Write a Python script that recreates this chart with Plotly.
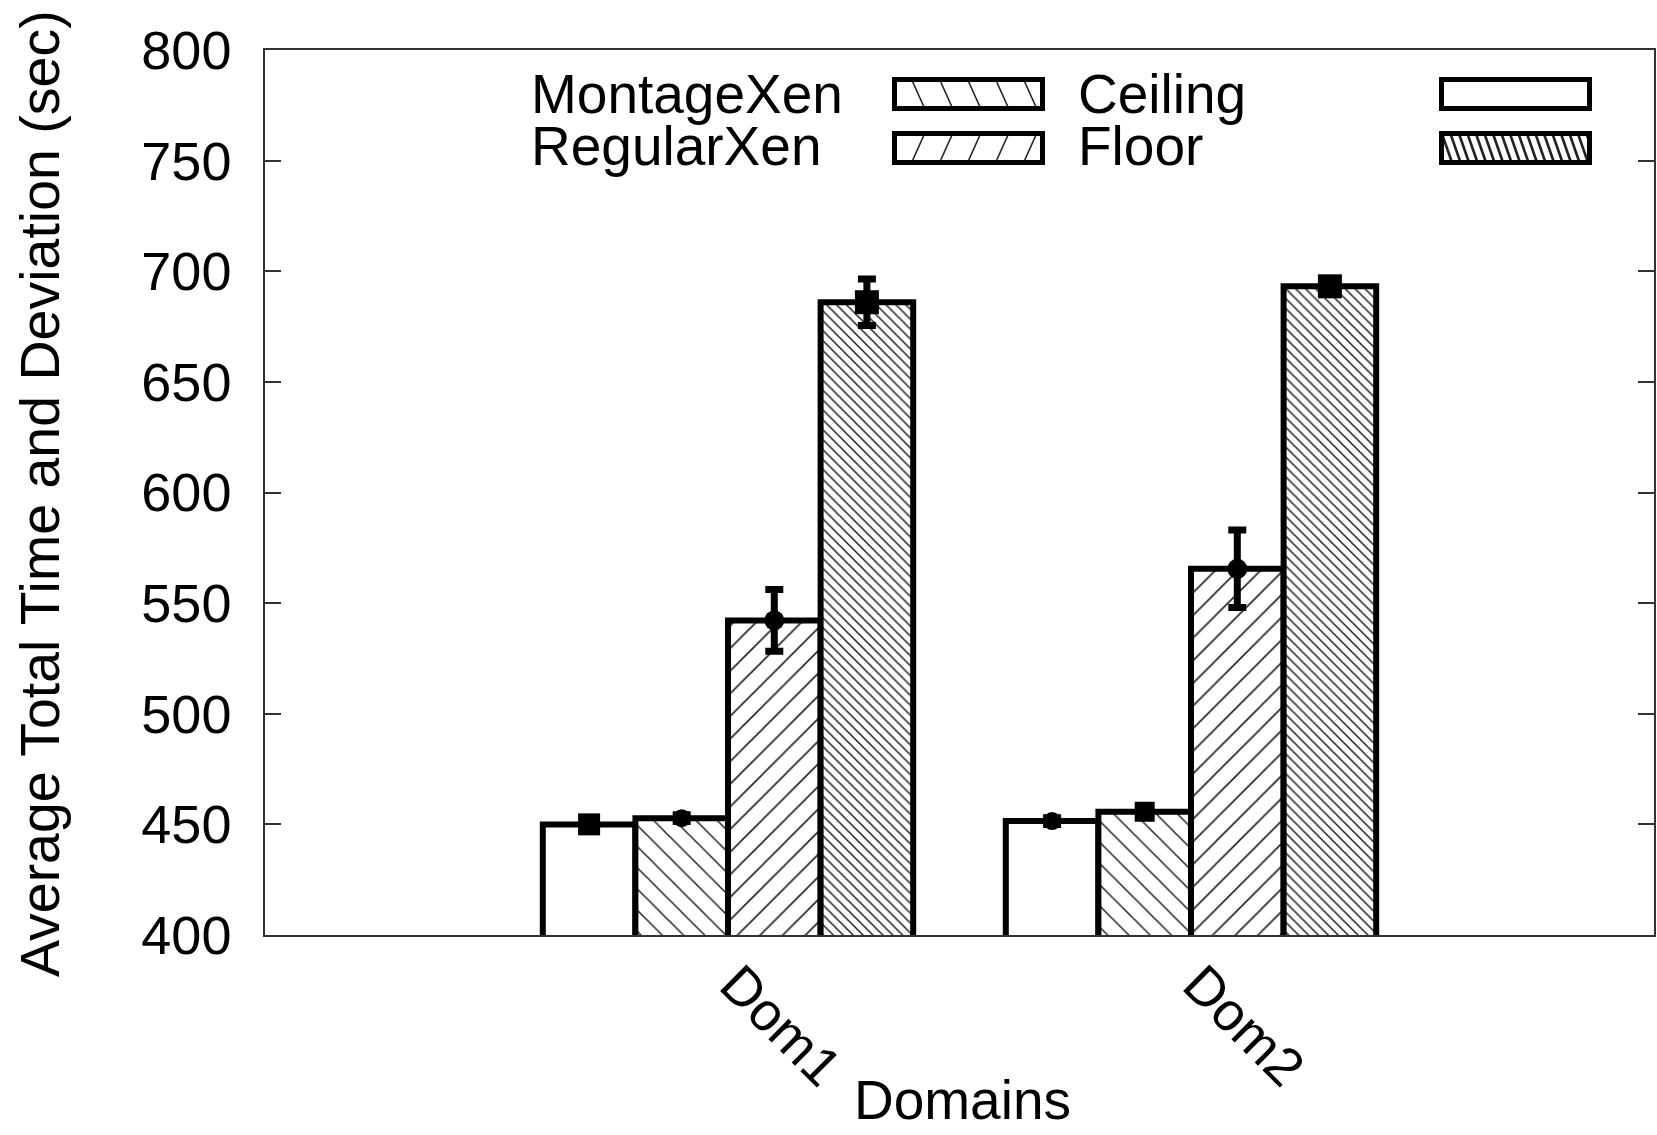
import plotly.graph_objects as go

# ---------------- data ----------------
domains = ["Dom1", "Dom2"]
series_names = ["Ceiling", "MontageXen", "RegularXen", "Floor"]
ceiling = [450.0, 451.5]
montage_xen = [452.8, 455.7]
regular_xen = [542.2, 565.5]
floor_vals = [686.0, 693.2]
ceiling_err = [2.5, 1.5]
montage_err = [1.5, 2.0]
regular_err = [14.0, 17.5]
floor_err = [10.5, 2.0]
y_ticks = [400, 450, 500, 550, 600, 650, 700, 750, 800]

values = [ceiling, montage_xen, regular_xen, floor_vals]
errors = [ceiling_err, montage_err, regular_err, floor_err]

# ---------------- style ----------------
W, H = 1657, 1135
ML, MR, MT, MB = 265, 3, 50, 200
PW, PH = W - ML - MR, H - MT - MB
FONT = "Liberation Sans, Arial, sans-serif"

patterns = [
    dict(shape=""),
    dict(shape="\\", size=15, solidity=0.1, fgcolor="#222", bgcolor="white"),
    dict(shape="/", size=16, solidity=0.1, fgcolor="#222", bgcolor="white"),
    dict(shape="\\", size=7, solidity=0.22, fgcolor="#222", bgcolor="white"),
]
marker_symbols = [["square", "circle"], ["circle", "square"],
                  ["circle", "circle"], ["square", "square"]]
marker_sizes = [[22, 18], [18, 20], [20, 20], [24, 24]]

fig = go.Figure()
for name, vals, pat in zip(series_names, values, patterns):
    fig.add_trace(go.Bar(
        x=domains, y=vals, name=name, offsetgroup=name,
        marker=dict(color="white", line=dict(color="black", width=6), pattern=pat),
        showlegend=False,
    ))
for name, vals, errs, sym, sz in zip(series_names, values, errors, marker_symbols, marker_sizes):
    fig.add_trace(go.Scatter(
        x=domains, y=vals, mode="markers", name=name, offsetgroup=name,
        marker=dict(color="black", symbol=sym, size=sz, opacity=1, line=dict(width=0)),
        error_y=dict(type="data", array=errs, visible=True, color="black",
                     thickness=7, width=9),
        showlegend=False, cliponaxis=False,
    ))

# ---------------- manual gnuplot-style legend ----------------
def px(x):
    return (x - ML) / PW


def py(y):
    return (H - MB - y) / PH


legend_entries = [("MontageXen", 0, 0), ("RegularXen", 0, 1), ("Ceiling", 1, 0), ("Floor", 1, 1)]
box_x = [892, 1439]
box_w = 153
row_y = [77, 131]
box_h = 34
text_x = [529, 1076]
text_cy = [94, 146]
legend_hatch = {
    "Ceiling": None,
    "MontageXen": ("\\", 28, 0.45, 1.6),
    "RegularXen": ("/", 28, 0.45, 1.6),
    "Floor": ("\\", 8.5, 0.35, 2.6),
}


def hatch_lines(x0, y0, x1, y1, kind, spacing, k):
    segs = []
    h = y1 - y0
    if kind == "\\":
        c = x0 - k * h
        while c < x1:
            ylo = max(y0, y0 + (x0 - c) / k)
            yhi = min(y1, y0 + (x1 - c) / k)
            if yhi > ylo:
                segs.append((c + k * (ylo - y0), ylo, c + k * (yhi - y0), yhi))
            c += spacing
    else:
        c = x0
        while c < x1 + k * h:
            ylo = max(y0, y0 + (c - x1) / k)
            yhi = min(y1, y0 + (c - x0) / k)
            if yhi > ylo:
                segs.append((c - k * (ylo - y0), ylo, c - k * (yhi - y0), yhi))
            c += spacing
    return segs


shapes = []
annotations = []
for name, col, row in legend_entries:
    x0, x1 = box_x[col], box_x[col] + box_w
    y0, y1 = row_y[row], row_y[row] + box_h
    shapes.append(dict(type="rect", xref="paper", yref="paper",
                       x0=px(x0), x1=px(x1), y0=py(y1), y1=py(y0),
                       fillcolor="white", line=dict(width=0)))
    hs = legend_hatch[name]
    if hs:
        kind, sp, k, lw = hs
        for (ax, ay, bx, by) in hatch_lines(x0 + 4, y0 + 4, x1 - 4, y1 - 4, kind, sp, k):
            shapes.append(dict(type="line", xref="paper", yref="paper",
                               x0=px(ax), y0=py(ay), x1=px(bx), y1=py(by),
                               line=dict(color="#222", width=lw)))
    shapes.append(dict(type="rect", xref="paper", yref="paper",
                       x0=px(x0 + 2.5), x1=px(x1 - 2.5), y0=py(y1 - 2.5), y1=py(y0 + 2.5),
                       fillcolor="rgba(0,0,0,0)", line=dict(color="black", width=5)))
    annotations.append(dict(text=name, xref="paper", yref="paper", x=px(text_x[col]),
                            y=py(text_cy[row]), xanchor="left", yanchor="middle",
                            showarrow=False, font=dict(family=FONT, size=55, color="black")))

annotations.append(dict(text="Average Total Time and Deviation (sec)", xref="paper", yref="paper",
                        x=px(40), y=py(494), textangle=-90, xanchor="center", yanchor="middle",
                        showarrow=False, font=dict(family=FONT, size=55.5, color="black")))
annotations.append(dict(text="Domains", xref="paper", yref="paper",
                        x=px(962), y=py(1100), xanchor="center", yanchor="middle",
                        showarrow=False, font=dict(family=FONT, size=55, color="black")))

fig.update_layout(
    template="none",
    width=W, height=H,
    margin=dict(l=ML, r=MR, t=MT, b=MB, pad=0),
    paper_bgcolor="white", plot_bgcolor="white",
    barmode="group", bargap=0.2, bargroupgap=0,
    scattermode="group", scattergap=0.2,
    showlegend=False,
    shapes=shapes, annotations=annotations,
    font=dict(family=FONT, size=54, color="black"),
)
fig.update_xaxes(
    type="category", range=[-1, 2], tickangle=45, ticks="", showgrid=False,
    showline=True, linecolor="#333", linewidth=1.5, mirror=True, automargin=False,
    tickfont=dict(family=FONT, size=54, color="black"), zeroline=False,
    ticklabelshift=8, ticklabelstandoff=-6,
)
fig.update_yaxes(
    range=[400, 800], tickvals=y_ticks, ticks="inside", ticklen=16, tickwidth=1.5,
    tickcolor="#333", showgrid=False, showline=True, linecolor="#333", linewidth=1.5,
    mirror="ticks", automargin=False, zeroline=False, ticklabelstandoff=21,
    tickfont=dict(family=FONT, size=54, color="black"),
)

fig.write_html(
    "out.html",
    config={"displayModeBar": False},
    post_script="document.body.style.margin='0';document.body.style.overflow='hidden';",
)
